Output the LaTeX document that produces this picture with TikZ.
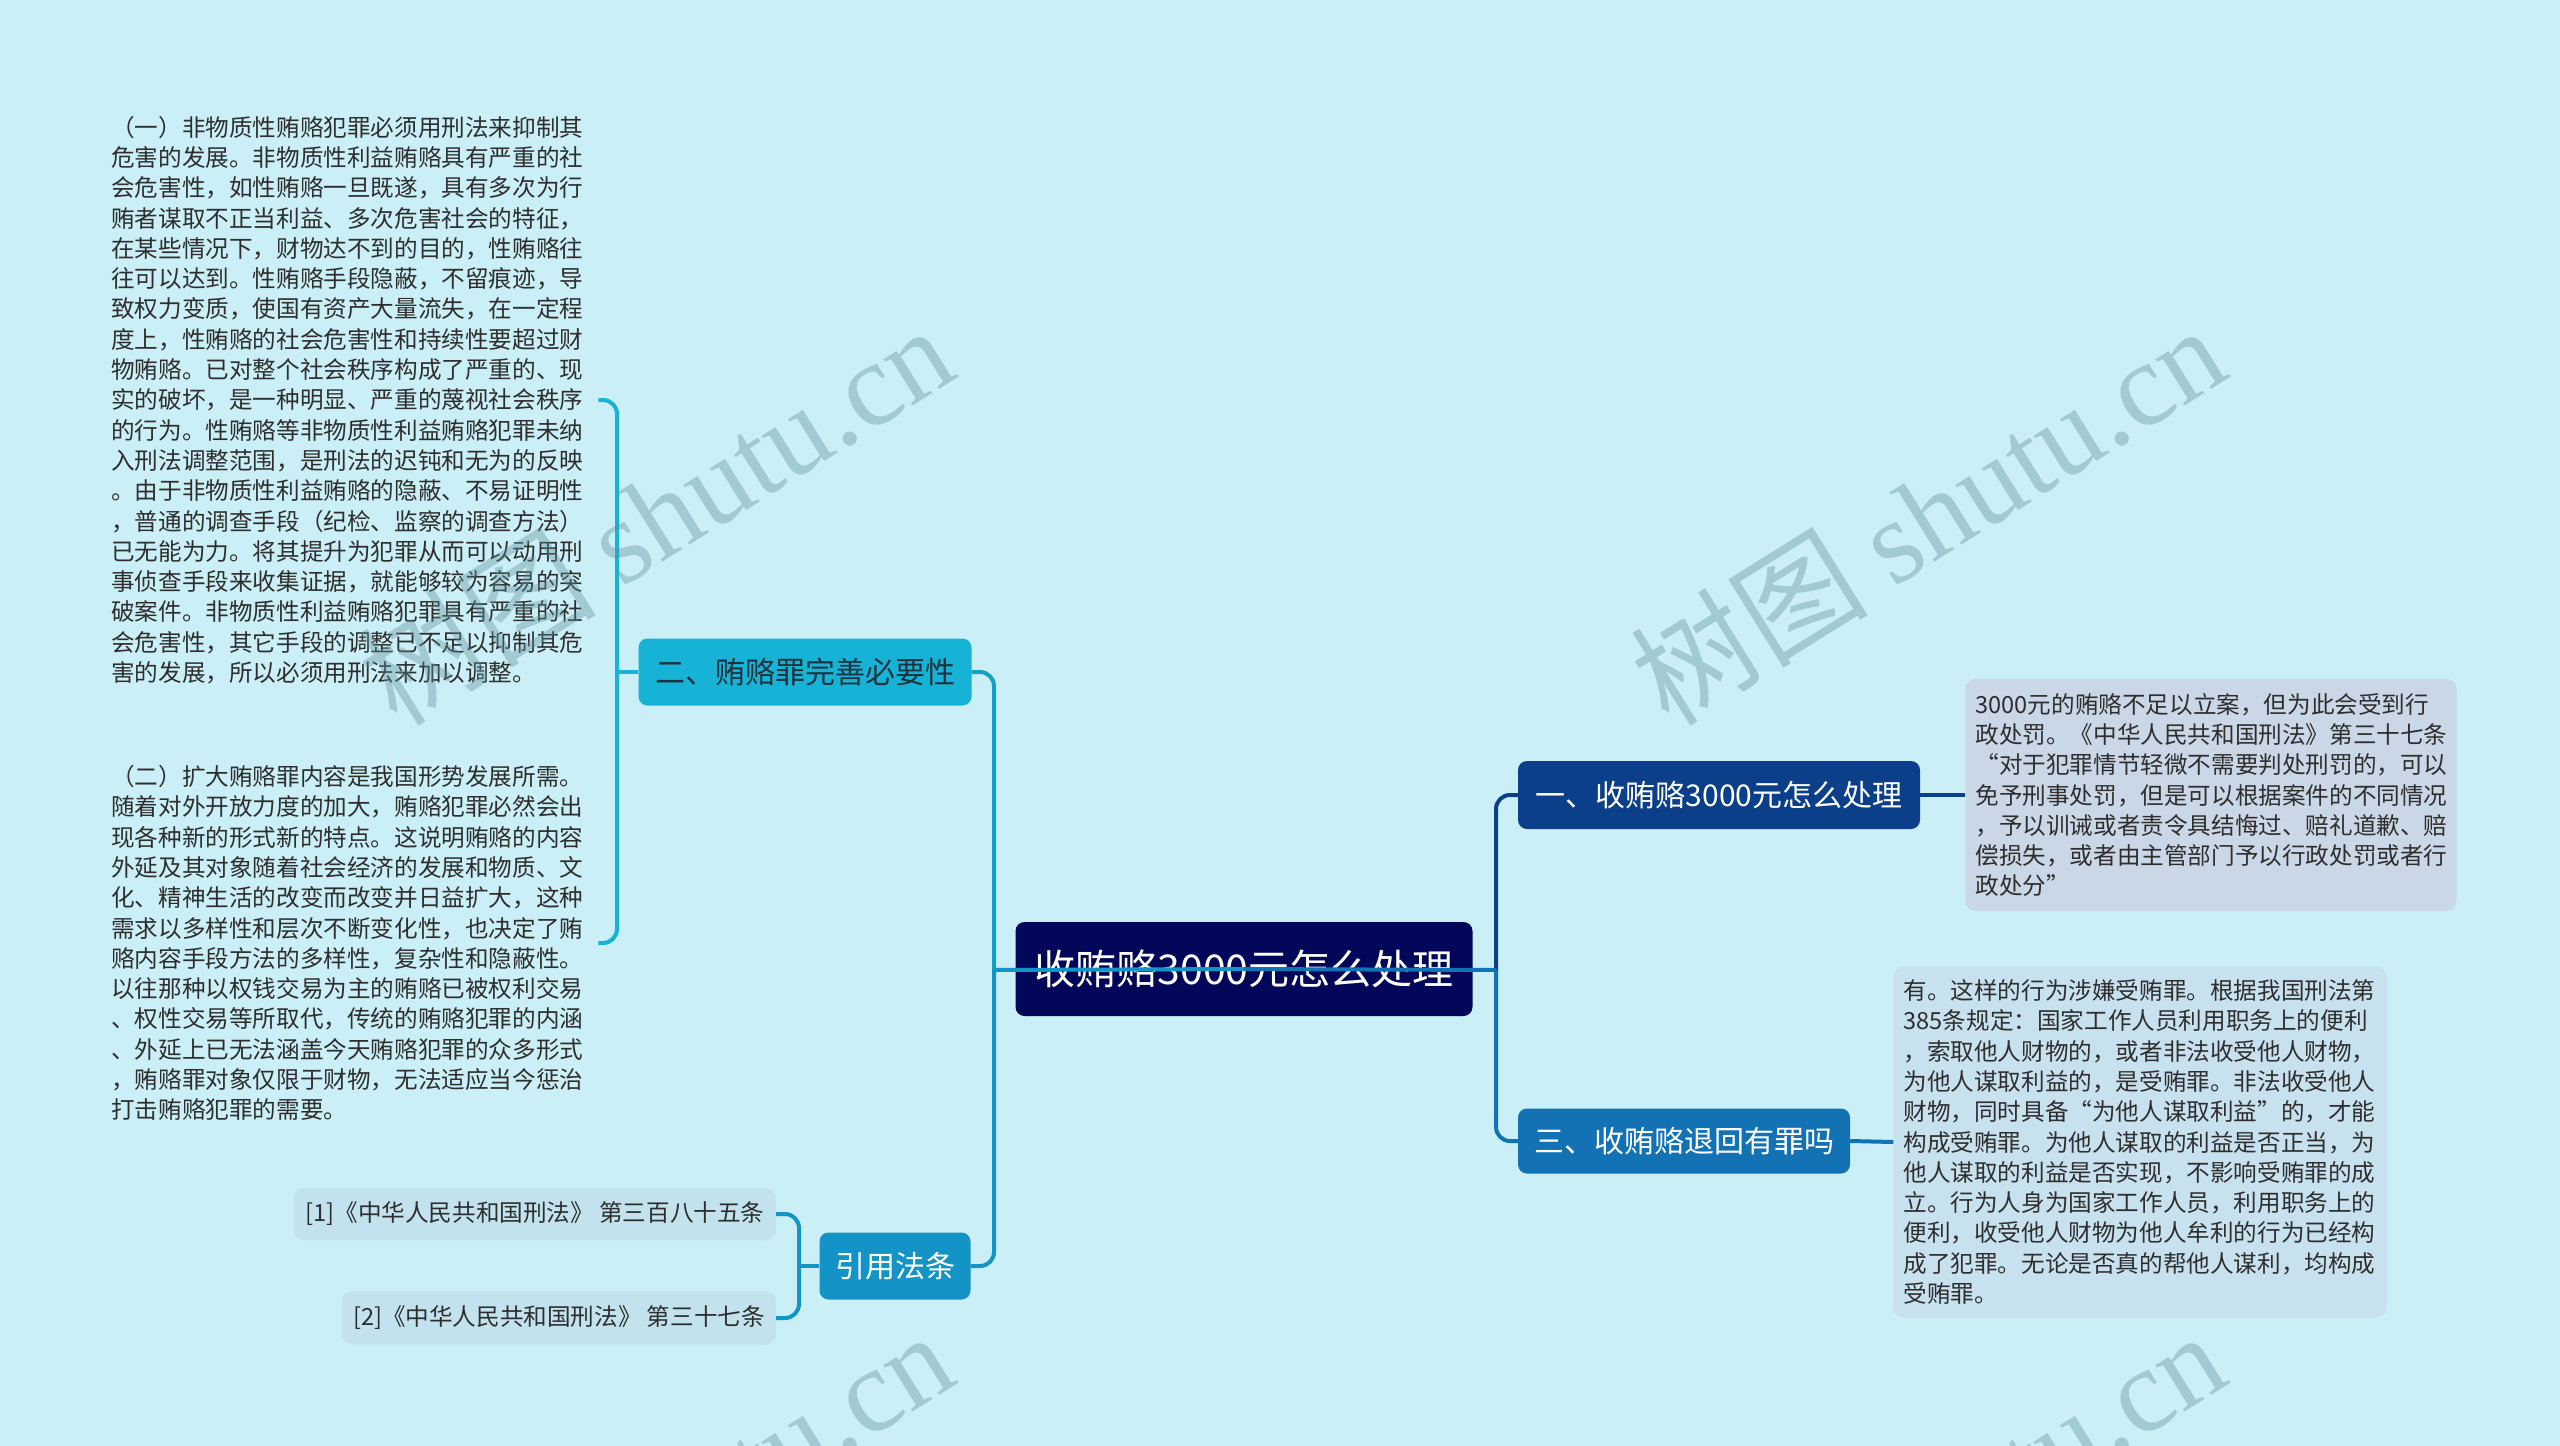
\documentclass[tikz,border=0pt]{standalone}
\usepackage{fontspec}
\setmainfont{Noto Sans CJK SC}
\newfontfamily\wmlatin{Liberation Serif}
\definecolor{bg}{HTML}{CBEFF6}
\definecolor{rootc}{HTML}{03075A}
\definecolor{onec}{HTML}{0C3F8A}
\definecolor{threec}{HTML}{1272B3}
\definecolor{twoc}{HTML}{17B3D6}
\definecolor{fourc}{HTML}{1494C6}
\definecolor{twotext}{HTML}{1B3340}
\definecolor{dOne}{HTML}{CAD7E6}
\definecolor{dThree}{HTML}{C8E1EF}
\definecolor{refc}{HTML}{C2E3ED}
\definecolor{txt}{HTML}{2E2E2E}
\definecolor{wmc}{HTML}{5D8F99}
\begin{document}
\begin{tikzpicture}[x=1pt,y=-1pt,
  mainbox/.style={rounded corners=9pt, inner sep=0pt, align=center, font=\fontsize{30}{36}\selectfont, text=white},
  detail/.style={rounded corners=10pt, align=left, inner xsep=10pt, inner ysep=0pt, font=\fontsize{23.6}{30.3}\selectfont, text=txt},
  para/.style={inner sep=0pt, align=left, text width=476pt, anchor=west, font=\fontsize{23.6}{30.3}\selectfont, text=txt},
  refbox/.style={rounded corners=10pt, fill=refc, inner sep=0pt, align=center, font=\fontsize{23.6}{30.3}\selectfont, text=txt},
  conn/.style={line width=4pt, rounded corners=14pt},
  wm/.style={font=\fontsize{119}{130}\selectfont, text=wmc, text opacity=0.38, inner sep=0pt}]
\useasboundingbox (0,0) rectangle (2560,1446);
\fill[bg] (0,0) rectangle (2560,1446);
\clip (0,0) rectangle (2560,1446);

% nodes
\node[mainbox, fill=rootc, minimum width=457pt, minimum height=94pt, font=\fontsize{41}{48}\selectfont] (root) at (1244,969) {收贿赂3000元怎么处理};
\node[mainbox, fill=onec, minimum width=402pt, minimum height=68pt] (b1) at (1719,795) {一、收贿赂3000元怎么处理};
\node[mainbox, fill=threec, minimum width=332pt, minimum height=65pt] (b3) at (1684,1141) {三、收贿赂退回有罪吗};
\node[mainbox, fill=twoc, minimum width=333pt, minimum height=67pt, text=twotext] (b2) at (805,672) {二、贿赂罪完善必要性};
\node[mainbox, fill=fourc, minimum width=151pt, minimum height=67pt] (b4) at (895,1266) {引用法条};

\node[detail, fill=dOne, text width=471pt, minimum height=232pt] (d1) at (2211,795) {3000元的贿赂不足以立案，但为此会受到行\\政处罚。《中华人民共和国刑法》第三十七条\\“对于犯罪情节轻微不需要判处刑罚的，可以\\免予刑事处罚，但是可以根据案件的不同情况\\，予以训诫或者责令具结悔过、赔礼道歉、赔\\偿损失，或者由主管部门予以行政处罚或者行\\政处分”};
\node[detail, fill=dThree, text width=473pt, minimum height=351pt] (d3) at (2140,1142) {有。这样的行为涉嫌受贿罪。根据我国刑法第\\385条规定：国家工作人员利用职务上的便利\\，索取他人财物的，或者非法收受他人财物，\\为他人谋取利益的，是受贿罪。非法收受他人\\财物，同时具备“为他人谋取利益”的，才能\\构成受贿罪。为他人谋取的利益是否正当，为\\他人谋取的利益是否实现，不影响受贿罪的成\\立。行为人身为国家工作人员，利用职务上的\\便利，收受他人财物为他人牟利的行为已经构\\成了犯罪。无论是否真的帮他人谋利，均构成\\受贿罪。};

\node[para] (t1) at (111,400) {（一）非物质性贿赂犯罪必须用刑法来抑制其\\危害的发展。非物质性利益贿赂具有严重的社\\会危害性，如性贿赂一旦既遂，具有多次为行\\贿者谋取不正当利益、多次危害社会的特征，\\在某些情况下，财物达不到的目的，性贿赂往\\往可以达到。性贿赂手段隐蔽，不留痕迹，导\\致权力变质，使国有资产大量流失，在一定程\\度上，性贿赂的社会危害性和持续性要超过财\\物贿赂。已对整个社会秩序构成了严重的、现\\实的破坏，是一种明显、严重的蔑视社会秩序\\的行为。性贿赂等非物质性利益贿赂犯罪未纳\\入刑法调整范围，是刑法的迟钝和无为的反映\\。由于非物质性利益贿赂的隐蔽、不易证明性\\，普通的调查手段（纪检、监察的调查方法）\\已无能为力。将其提升为犯罪从而可以动用刑\\事侦查手段来收集证据，就能够较为容易的突\\破案件。非物质性利益贿赂犯罪具有严重的社\\会危害性，其它手段的调整已不足以抑制其危\\害的发展，所以必须用刑法来加以调整。};
\node[para] (t2) at (111,943) {（二）扩大贿赂罪内容是我国形势发展所需。\\随着对外开放力度的加大，贿赂犯罪必然会出\\现各种新的形式新的特点。这说明贿赂的内容\\外延及其对象随着社会经济的发展和物质、文\\化、精神生活的改变而改变并日益扩大，这种\\需求以多样性和层次不断变化性，也决定了贿\\赂内容手段方法的多样性，复杂性和隐蔽性。\\以往那种以权钱交易为主的贿赂已被权利交易\\、权性交易等所取代，传统的贿赂犯罪的内涵\\、外延上已无法涵盖今天贿赂犯罪的众多形式\\，贿赂罪对象仅限于财物，无法适应当今惩治\\打击贿赂犯罪的需要。};

\node[refbox, minimum width=482pt, minimum height=52pt] (ref1) at (535,1214) {[1]《中华人民共和国刑法》 第三百八十五条};
\node[refbox, minimum width=434pt, minimum height=53pt] (ref2) at (559,1318) {[2]《中华人民共和国刑法》 第三十七条};

% connectors
\coordinate (LT) at (994,970);
\coordinate (RT) at (1496,970);
\coordinate (B2) at (617,672);
\coordinate (B4) at (799,1266);

\draw[conn, color=onec] (RT) |- (b1.west);
\draw[conn, color=threec] (RT) |- (b3.west);
\draw[conn, color=twoc!90!black] (LT) |- (b2.east);
\draw[conn, color=fourc] (LT) |- (b4.east);
\draw[line width=4pt, color=fourc] (LT) -- (root.center);
\draw[line width=4pt, color=threec] (root.center) -- (RT);

\draw[conn, color=onec] (b1.east) -- (d1.west);
\draw[conn, color=threec] (b3.east) -- (d3.west);

\draw[conn, color=twoc] (b2.west) -- (B2);
\draw[conn, color=twoc] ([xshift=11pt]t1.east) -| (B2);
\draw[conn, color=twoc] ([xshift=11pt]t2.east) -| (B2);

\draw[conn, color=fourc] (b4.west) -- (B4);
\draw[conn, color=fourc] (ref1.east) -| (B4);
\draw[conn, color=fourc] (ref2.east) -| (B4);

% watermarks
\node[wm, rotate=32] (wm1) at (655,514) {树图 {\wmlatin shutu.cn}};
\node[wm, rotate=32] (wm2) at (1927,514) {树图 {\wmlatin shutu.cn}};
\node[wm, rotate=32] (wm3) at (655,1520) {树图 {\wmlatin shutu.cn}};
\node[wm, rotate=32] (wm4) at (1927,1520) {树图 {\wmlatin shutu.cn}};
\end{tikzpicture}
\end{document}
